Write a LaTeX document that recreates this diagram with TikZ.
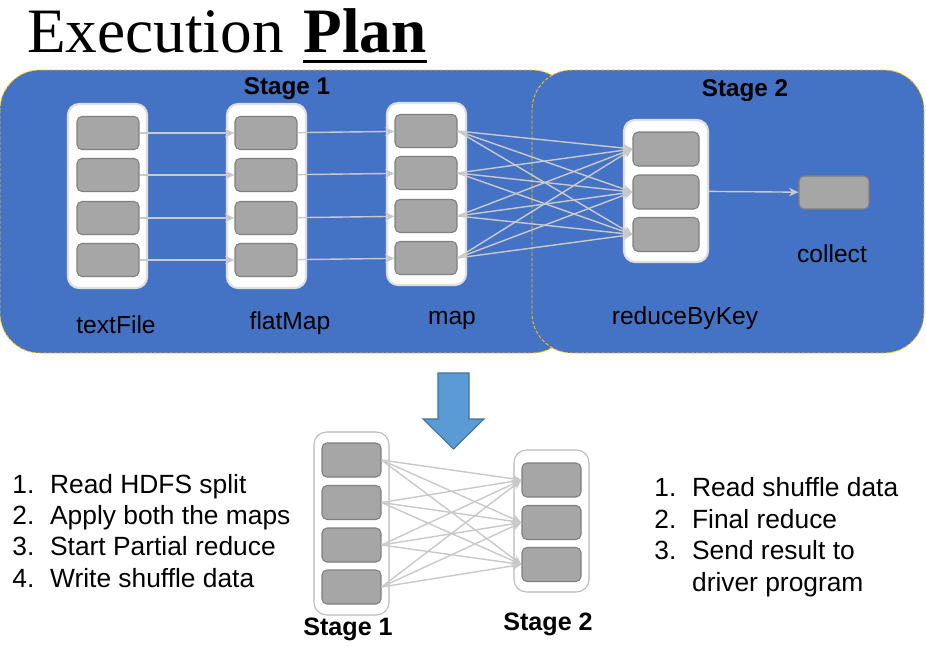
\documentclass[tikz,border=0pt]{standalone}
\usepackage{fontspec}
\setmainfont{Liberation Sans}
\newfontfamily\titlefont{Liberation Serif}
\usetikzlibrary{arrows.meta, positioning}

\definecolor{stageblue}{HTML}{4472C4}
\definecolor{stageedge}{HTML}{FFC000}
\definecolor{partfill}{HTML}{A6A6A6}
\definecolor{partedge}{HTML}{7F7F7F}
\definecolor{flowgray}{HTML}{C9C9C9}
\definecolor{downblue}{HTML}{5B9BD5}
\definecolor{downedge}{HTML}{41719C}

\begin{document}
\begin{tikzpicture}[
  x=0.02cm, y=-0.02cm,
  stagebg/.style={fill=stageblue, draw=stageedge, dash pattern=on 2pt off 1pt, line width=0.5pt, rounded corners=0.8cm},
  opbox/.style={draw=gray!25, fill=white, line width=1.2pt, rounded corners=0.22cm, inner sep=0pt},
  subbox/.style={draw=gray!55, fill=white, line width=0.6pt, rounded corners=0.25cm, inner sep=0pt},
  part/.style={draw=partedge, fill=partfill, rounded corners=0.1cm, minimum width=1.24cm, minimum height=0.66cm, inner sep=0pt, line width=0.6pt},
  flow/.style={-{Stealth[length=1.9mm, width=1.7mm]}, draw=flowgray, line width=0.8pt},
  oplbl/.style={font=\fontsize{14pt}{16pt}\selectfont, inner sep=0pt},
  stagelbl/.style={font=\fontsize{13.8pt}{16pt}\selectfont\bfseries, inner sep=0pt},
  titletxt/.style={anchor=base west, inner sep=0pt, font=\titlefont\fontsize{36pt}{40pt}\selectfont},
  steps/.style={font=\fontsize{15pt}{17.8pt}\selectfont, anchor=north west, inner sep=0pt, align=left}
]
  \useasboundingbox (0,0) rectangle (926,646);

  % Title
  \node[titletxt] (title) at (27,52) {Execution};
  \node[titletxt, font=\titlefont\fontsize{36pt}{40pt}\selectfont\bfseries] (plan) at (303,52) {Plan};
  \draw[line width=1.7pt] ([yshift=-5.3pt]plan.base west) -- ([yshift=-5.3pt]plan.base east);

  % Stages
  \draw[stagebg] (0,70) rectangle (572,353);
  \draw[stagebg] (532,70) rectangle (924,353);
  \node[stagelbl] (st1) at (287,89) {Stage 1};
  \node[stagelbl] (st2) at (745,91) {Stage 2};

  % Operators of stage 1
  \node[opbox, minimum width=1.58cm, minimum height=3.68cm] (tfbox) at (107.5,196) {};
  \node[opbox, minimum width=1.58cm, minimum height=3.68cm] (fmbox) at (266.5,196) {};
  \node[opbox, minimum width=1.58cm, minimum height=3.64cm] (mpbox) at (426.5,194) {};
  \foreach \i/\y in {1/133,2/175,3/218,4/260} {
    \node[part] (tf\i) at (108,\y) {};
    \node[part] (fm\i) at (266,\y) {};
    \node[part] (mp\i) at (426,\y-2) {};
  }
  \node[oplbl] (tflbl) at (116,325) {textFile};
  \node[oplbl] (fmlbl) at (290,323) {flatMap};
  \node[oplbl] (mplbl) at (452,320) {map};

  % Operators of stage 2
  \node[opbox, minimum width=1.68cm, minimum height=2.84cm] (rkbox) at (666,191) {};
  \foreach \j/\y in {1/149,2/192,3/234.5}
    \node[part, minimum width=1.32cm, minimum height=0.68cm] (rk\j) at (666,\y) {};
  \node[part, minimum width=1.4cm] (col) at (834,192.5) {};
  \node[oplbl] (rklbl) at (685,318) {reduceByKey};
  \node[oplbl] (collbl) at (832,254) {collect};

  % Data flow
  \foreach \i in {1,...,4} {
    \draw[flow] (tf\i) -- (fm\i);
    \draw[flow] (fm\i) -- (mp\i);
  }
  \foreach \i in {1,...,4}
    \foreach \j in {1,2,3}
      \draw[flow] (mp\i.east) -- (rk\j.west);
  \draw[flow] (rkbox) -- (col);

  % Down arrow
  \filldraw[fill=downblue, draw=downedge, line width=0.6pt]
    (438,373) -- (469,373) -- (469,419) -- (484,419) -- (453.5,449) -- (423,419) -- (438,419) -- cycle;

  % Summary of the two stages
  \node[subbox, minimum width=1.5cm, minimum height=3.66cm] (s1box) at (351.5,523.5) {};
  \node[subbox, minimum width=1.5cm, minimum height=2.84cm] (s2box) at (551.5,521) {};
  \foreach \i/\y in {1/460,2/502.5,3/545,4/587}
    \node[part, minimum width=1.18cm, minimum height=0.68cm] (a\i) at (351.5,\y) {};
  \foreach \j/\y in {1/480,2/522.5,3/564.5}
    \node[part, minimum width=1.18cm, minimum height=0.68cm] (b\j) at (551.5,\y) {};
  \foreach \i in {1,...,4}
    \foreach \j in {1,2,3}
      \draw[flow] (a\i.east) -- (b\j.west);
  \node[stagelbl, font=\fontsize{14.3pt}{16pt}\selectfont\bfseries] (s1lbl) at (348,629) {Stage 1};
  \node[stagelbl, font=\fontsize{14.3pt}{16pt}\selectfont\bfseries] (s2lbl) at (548,624) {Stage 2};

  % Steps
  \node[steps] (s1steps) at (12,471) {\begin{tabular}{@{}p{21.5pt}@{}l@{}}
    1. & Read HDFS split\\
    2. & Apply both the maps\\
    3. & Start Partial reduce\\
    4. & Write shuffle data
  \end{tabular}};
  \node[steps, font=\fontsize{15pt}{18pt}\selectfont] (s2steps) at (654,474) {\begin{tabular}{@{}p{21.5pt}@{}l@{}}
    1. & Read shuffle data\\
    2. & Final reduce\\
    3. & Send result to\\
       & driver program
  \end{tabular}};
\end{tikzpicture}
\end{document}
